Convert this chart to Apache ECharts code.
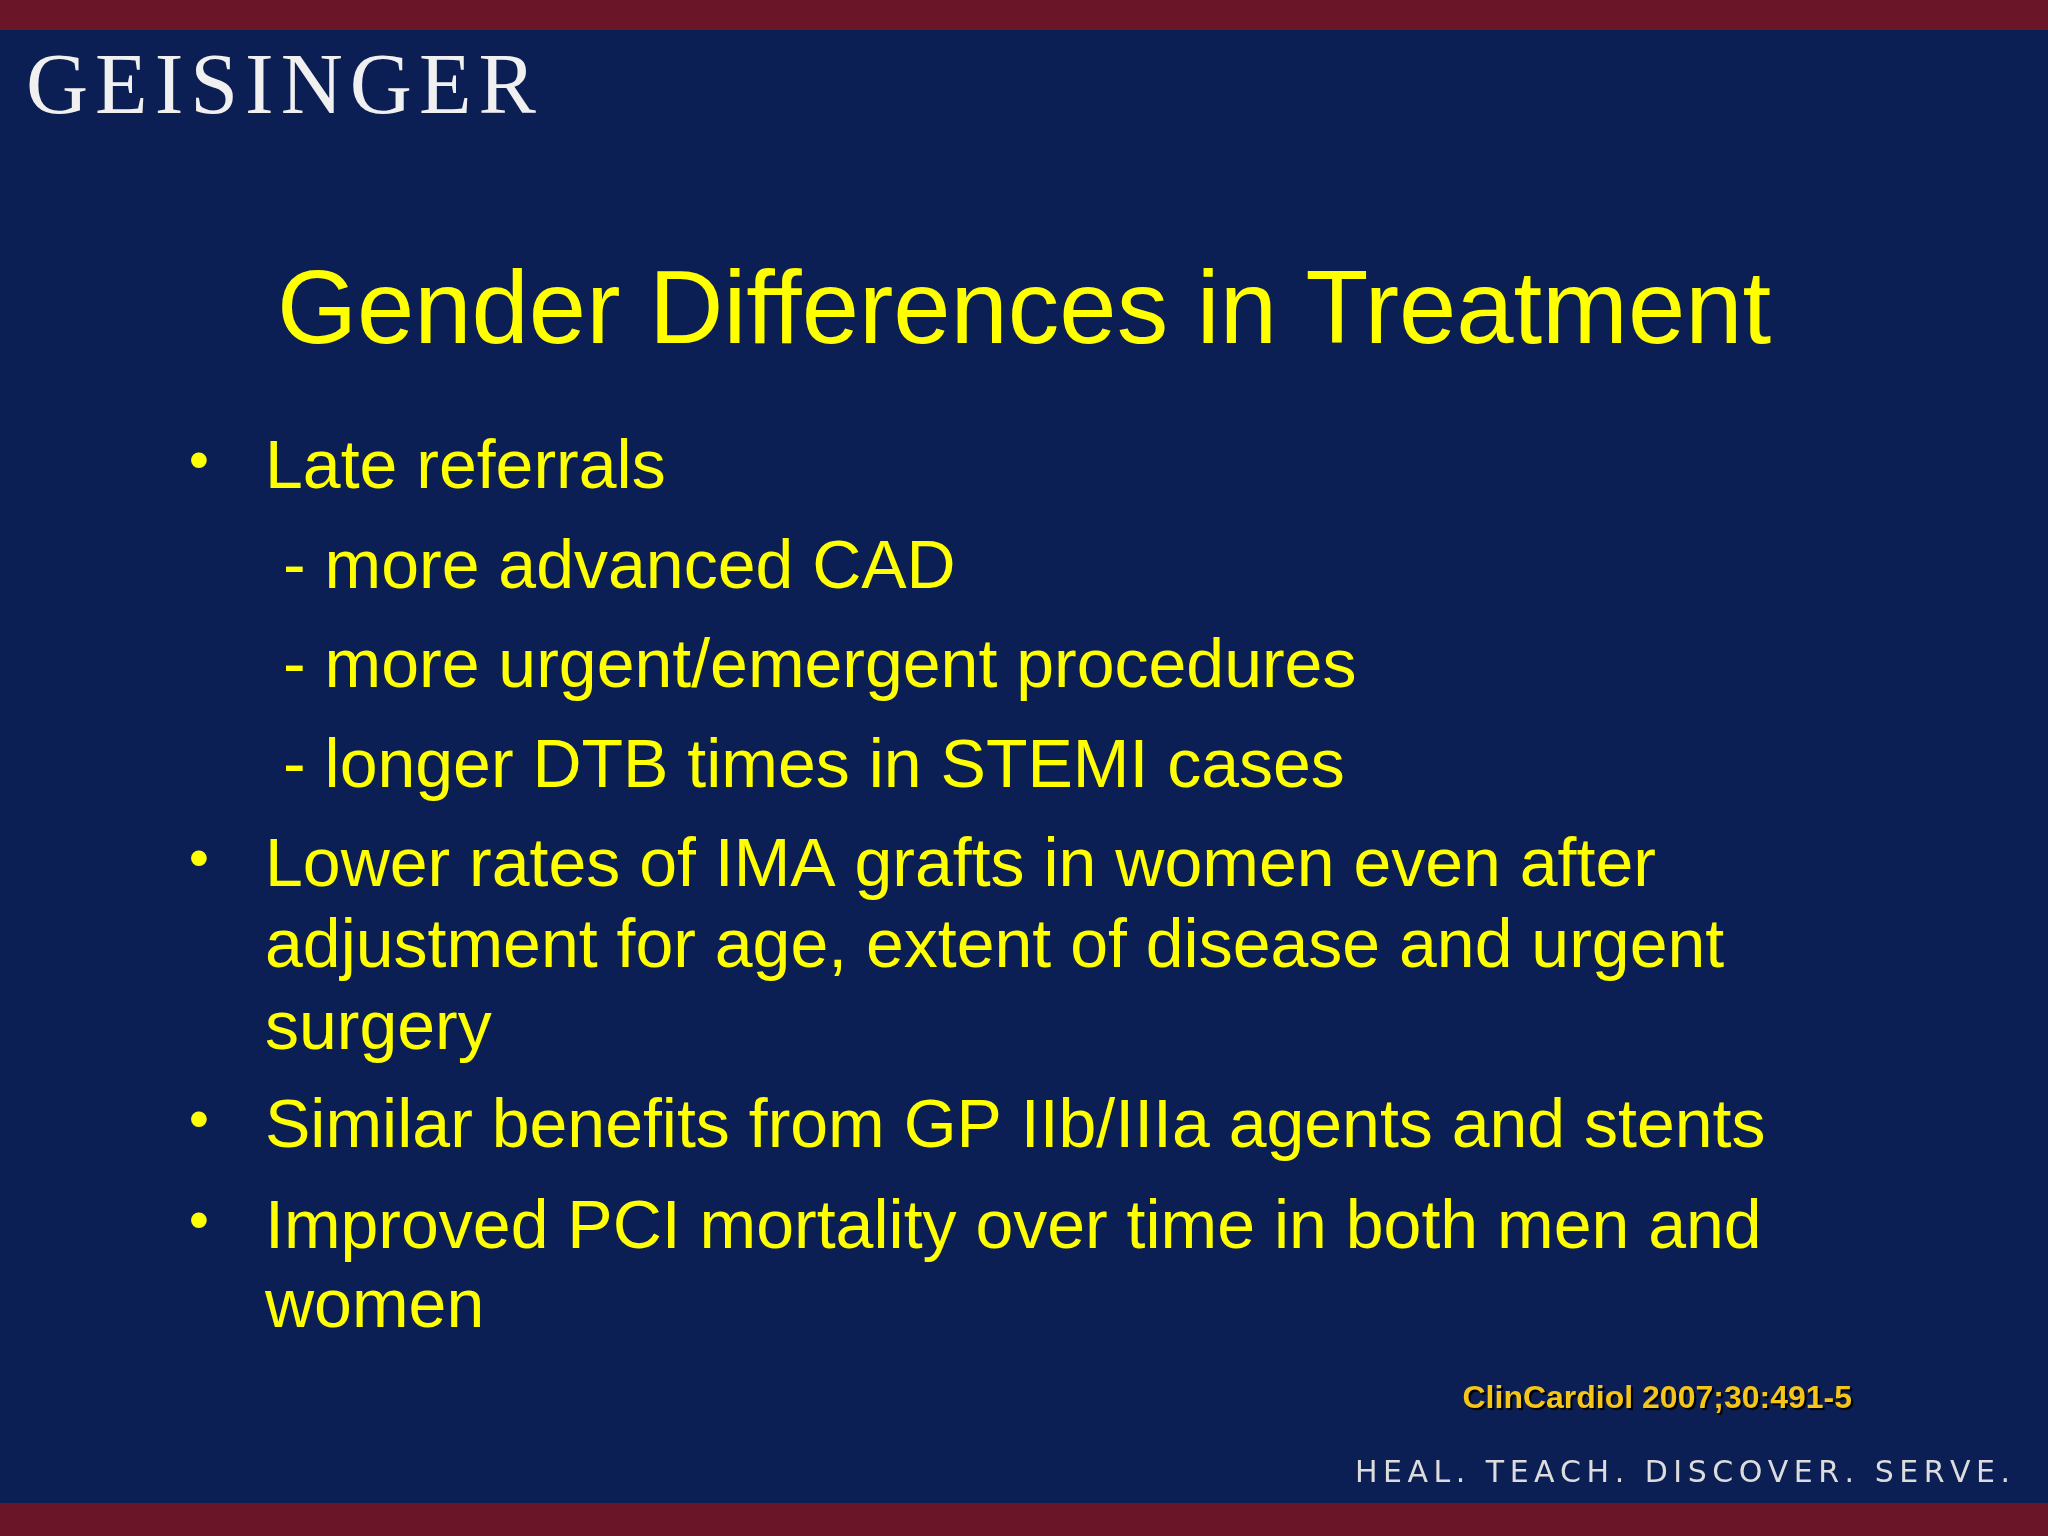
<!DOCTYPE html>
<html><head><meta charset="utf-8">
<script src="https://cdn.jsdelivr.net/npm/echarts@6/dist/echarts.min.js"></script>
<style>html,body{margin:0;padding:0;background:#0b1f52}#c{width:2048px;height:1536px}</style>
</head><body><div id="c"></div>
<script>
const logoText = "GEISINGER";
const titleText = "Gender Differences in Treatment";
const bulletLines = [
  {text: "Late referrals", bullet: true, indent: 0},
  {text: "- more advanced CAD", bullet: false, indent: 1},
  {text: "- more urgent/emergent procedures", bullet: false, indent: 1},
  {text: "- longer DTB times in STEMI cases", bullet: false, indent: 1},
  {text: "Lower rates of IMA grafts in women even after", bullet: true, indent: 0},
  {text: "adjustment for age, extent of disease and urgent", bullet: false, indent: 0},
  {text: "surgery", bullet: false, indent: 0},
  {text: "Similar benefits from GP IIb/IIIa agents and stents", bullet: true, indent: 0},
  {text: "Improved PCI mortality over time in both men and", bullet: true, indent: 0},
  {text: "women", bullet: false, indent: 0}
];
const lineY = [469, 569, 668, 768, 867, 948, 1030, 1128, 1229, 1308];
const citation = "ClinCardiol 2007;30:491-5";
const tagline = "HEAL. TEACH. DISCOVER. SERVE.";

const chart = echarts.init(document.getElementById('c'));
const yellow = '#ffff00';
const ctx = document.createElement('canvas').getContext('2d');
function spaced(str, x, y, font, spacing, fill, alignRight) {
  ctx.font = font;
  const ws = str.split('').map(ch => ctx.measureText(ch).width);
  const total = ws.reduce((a,b)=>a+b,0) + spacing*(str.length-1);
  let cx = alignRight ? x - total : x;
  const out = [];
  str.split('').forEach((ch,i)=>{
    out.push({type:'text', x:cx, y:y, style:{text:ch, fill:fill, font:font, verticalAlign:'middle'}});
    cx += ws[i] + spacing;
  });
  return out;
}
let g = [
  {type:'rect', shape:{x:0,y:0,width:2048,height:1536}, style:{fill:'#0b1f54'}},
  {type:'rect', shape:{x:0,y:0,width:2048,height:30}, style:{fill:'#6b1628'}},
  {type:'rect', shape:{x:0,y:1503,width:2048,height:33}, style:{fill:'#6b1628'}},
  {type:'text', x:1024, y:315, style:{text:titleText, fill:yellow, font:'400 103px "Liberation Sans", Arial, sans-serif', align:'center', verticalAlign:'middle'}}
];
g = g.concat(spaced(logoText, 26, 90, '400 86px "Liberation Serif", "DejaVu Serif", serif', 7, '#f0f0f0', false));
bulletLines.forEach((l,i)=>{
  const y = lineY[i];
  if (l.bullet) g.push({type:'text', x:199, y:y-6, style:{text:'•', fill:yellow, font:'400 58px "Liberation Sans", Arial, sans-serif', align:'center', verticalAlign:'middle'}});
  g.push({type:'text', x: l.indent ? 283 : 265, y:y, style:{text:l.text, fill:yellow, font:'400 68px "Liberation Sans", Arial, sans-serif', verticalAlign:'middle'}});
});
g.push({type:'text', x:1852, y:1399, style:{text:citation, fill:'#f5c518', font:'700 32px "Liberation Sans", Arial, sans-serif', align:'right', verticalAlign:'middle', textShadowColor:'#000', textShadowOffsetX:2, textShadowOffsetY:2, textShadowBlur:1}});
g = g.concat(spaced(tagline, 2010, 1474, '400 30px "DejaVu Sans", sans-serif', 5.5, '#dcdcdc', true));
chart.setOption({animation:false, graphic:g});
</script></body></html>
